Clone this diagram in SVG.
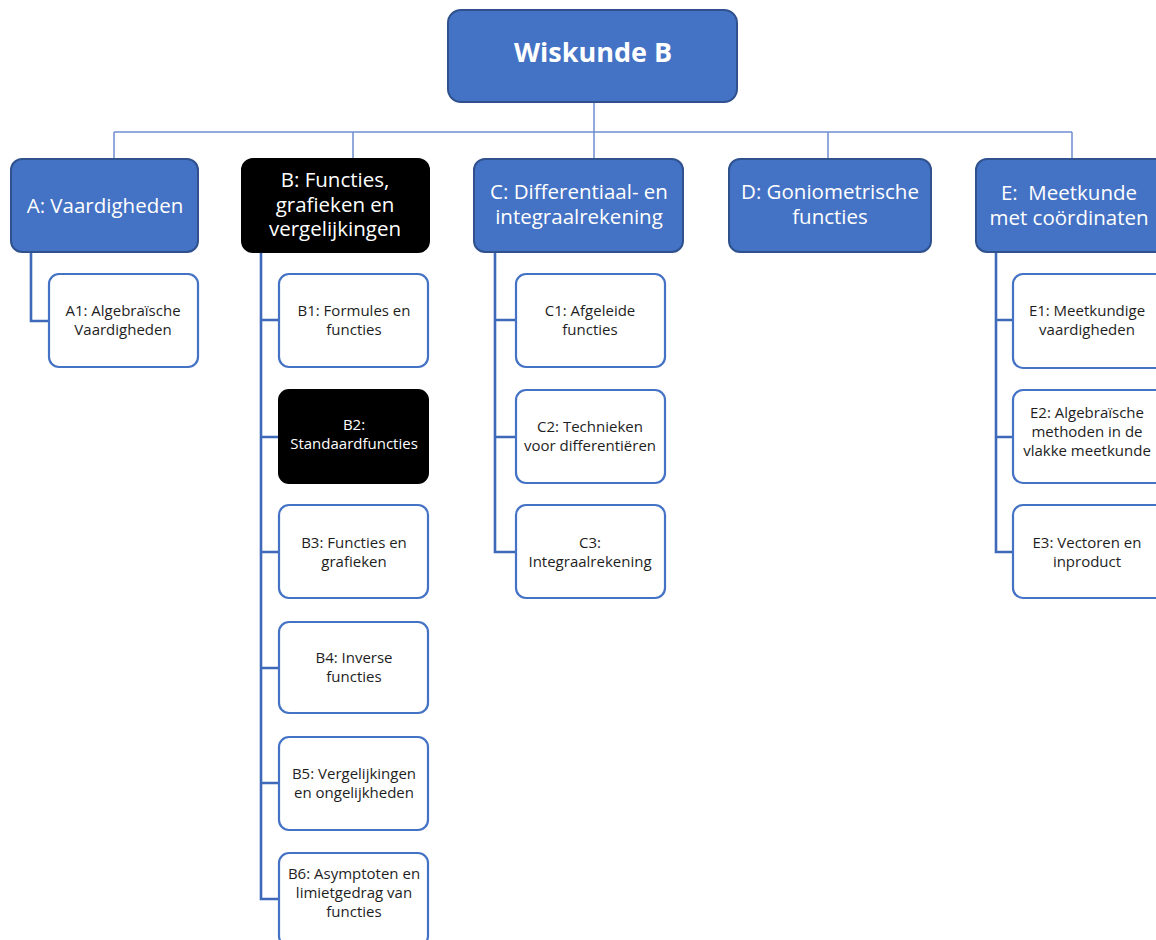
<svg xmlns="http://www.w3.org/2000/svg" width="1156" height="940" viewBox="0 0 1156 940">
  <style>
    .top { fill: #4472C4; stroke: #2F528F; stroke-width: 2; }
    .dark { fill: #000000; stroke: #000000; stroke-width: 2; }
    .leaf { fill: #FFFFFF; stroke: #4472C4; stroke-width: 2.2; }
    .bus { fill: none; stroke: #6E8FD0; stroke-width: 1.5; }
    .tree { fill: none; stroke: #3E69B8; stroke-width: 2.6; }
    text { font-family: "Open Sans", "Segoe UI", "Liberation Sans", sans-serif; text-anchor: middle; }
    .t0 { font-size: 27px; font-weight: bold; fill: #FFFFFF; }
    .t1 { font-size: 20.5px; fill: #FFFFFF; }
    .t2 { font-size: 15px; fill: #1E1E1E; }
    .t2w { font-size: 15px; fill: #FFFFFF; }
  </style>

  <!-- connectors -->
  <g id="connectors">
    <path class="bus" d="M594,102 V132 M114,132 H1072 M114,132 V159 M353,132 V159 M594,132 V159 M828,132 V159 M1072,132 V159"/>
    <!-- A branch -->
    <path class="tree" d="M31,252 V321 H49"/>
    <!-- B branch -->
    <path class="tree" d="M261,252 V899 H279 M261,320 H279 M261,437 H278 M261,552 H279 M261,668 H279 M261,783 H279"/>
    <!-- C branch -->
    <path class="tree" d="M495,252 V552 H516 M495,320 H516 M495,437 H516"/>
    <!-- E branch -->
    <path class="tree" d="M996,252 V552 H1013 M996,320 H1013 M996,437 H1013"/>
  </g>

  <!-- root -->
  <g id="root">
    <rect class="top" x="448" y="10" width="289" height="92" rx="13"/>
    <text class="t0" x="593" y="62">Wiskunde B</text>
  </g>

  <!-- level 1 -->
  <g id="nodeA">
    <rect class="top" x="11" y="159" width="187" height="93" rx="11"/>
    <text class="t1" x="105" y="213">A: Vaardigheden</text>
  </g>
  <g id="nodeB">
    <rect class="dark" x="242" y="159" width="187" height="93" rx="11"/>
    <text class="t1" x="335" y="187">B: Functies,<tspan x="335" dy="24.5">grafieken en</tspan><tspan x="335" dy="24.5">vergelijkingen</tspan></text>
  </g>
  <g id="nodeC">
    <rect class="top" x="474" y="159" width="209" height="93" rx="11"/>
    <text class="t1" x="579" y="199">C: Differentiaal- en<tspan x="579" dy="24.5">integraalrekening</tspan></text>
  </g>
  <g id="nodeD">
    <rect class="top" x="729" y="159" width="202" height="93" rx="11"/>
    <text class="t1" x="830" y="199">D: Goniometrische<tspan x="830" dy="24.5">functies</tspan></text>
  </g>
  <g id="nodeE">
    <rect class="top" x="976" y="159" width="195" height="93" rx="11"/>
    <text class="t1" x="1069" y="200" xml:space="preserve">E:  Meetkunde<tspan x="1069" dy="24.5">met coördinaten</tspan></text>
  </g>

  <!-- A children -->
  <g id="nodeA1">
    <rect class="leaf" x="49" y="274" width="149" height="93" rx="10"/>
    <text class="t2" x="123" y="316">A1: Algebraïsche<tspan x="123" dy="18.5">Vaardigheden</tspan></text>
  </g>

  <!-- B children -->
  <g id="nodeB1">
    <rect class="leaf" x="279" y="274" width="149" height="93" rx="10"/>
    <text class="t2" x="354" y="316">B1: Formules en<tspan x="354" dy="18.5">functies</tspan></text>
  </g>
  <g id="nodeB2">
    <rect class="dark" x="279" y="390" width="149" height="93" rx="10"/>
    <text class="t2w" x="354" y="430">B2:<tspan x="354" dy="19">Standaardfuncties</tspan></text>
  </g>
  <g id="nodeB3">
    <rect class="leaf" x="279" y="505" width="149" height="93" rx="10"/>
    <text class="t2" x="354" y="548">B3: Functies en<tspan x="354" dy="18.5">grafieken</tspan></text>
  </g>
  <g id="nodeB4">
    <rect class="leaf" x="279" y="622" width="149" height="91" rx="10"/>
    <text class="t2" x="354" y="663">B4: Inverse<tspan x="354" dy="18.5">functies</tspan></text>
  </g>
  <g id="nodeB5">
    <rect class="leaf" x="279" y="737" width="149" height="93" rx="10"/>
    <text class="t2" x="354" y="779">B5: Vergelijkingen<tspan x="354" dy="18.5">en ongelijkheden</tspan></text>
  </g>
  <g id="nodeB6">
    <rect class="leaf" x="279" y="853" width="149" height="93" rx="10"/>
    <text class="t2" x="354" y="879">B6: Asymptoten en<tspan x="354" dy="19">limietgedrag van</tspan><tspan x="354" dy="19">functies</tspan></text>
  </g>

  <!-- C children -->
  <g id="nodeC1">
    <rect class="leaf" x="516" y="274" width="149" height="93" rx="10"/>
    <text class="t2" x="590" y="316">C1: Afgeleide<tspan x="590" dy="18.5">functies</tspan></text>
  </g>
  <g id="nodeC2">
    <rect class="leaf" x="516" y="390" width="149" height="93" rx="10"/>
    <text class="t2" x="590" y="432">C2: Technieken<tspan x="590" dy="18.5">voor differentiëren</tspan></text>
  </g>
  <g id="nodeC3">
    <rect class="leaf" x="516" y="505" width="149" height="93" rx="10"/>
    <text class="t2" x="590" y="548">C3:<tspan x="590" dy="18.5">Integraalrekening</tspan></text>
  </g>

  <!-- E children -->
  <g id="nodeE1">
    <rect class="leaf" x="1013" y="274" width="160" height="94" rx="10"/>
    <text class="t2" x="1087" y="316">E1: Meetkundige<tspan x="1087" dy="18.5">vaardigheden</tspan></text>
  </g>
  <g id="nodeE2">
    <rect class="leaf" x="1013" y="390" width="160" height="93" rx="10"/>
    <text class="t2" x="1087" y="418">E2: Algebraïsche<tspan x="1087" dy="19">methoden in de</tspan><tspan x="1087" dy="19">vlakke meetkunde</tspan></text>
  </g>
  <g id="nodeE3">
    <rect class="leaf" x="1013" y="505" width="160" height="93" rx="10"/>
    <text class="t2" x="1087" y="548">E3: Vectoren en<tspan x="1087" dy="18.5">inproduct</tspan></text>
  </g>
</svg>
